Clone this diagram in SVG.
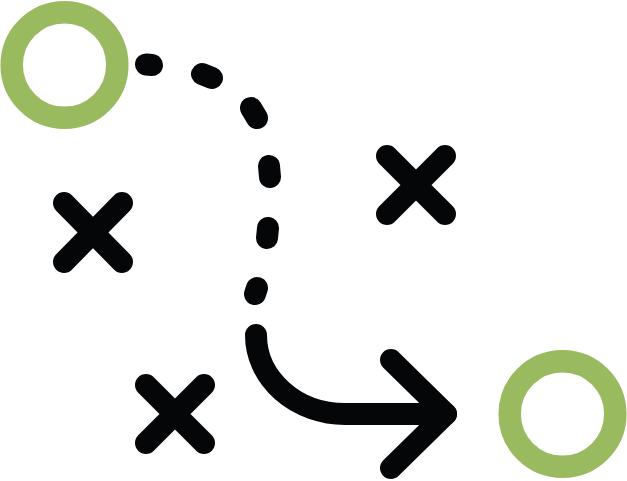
<svg xmlns="http://www.w3.org/2000/svg" width="627" height="481" viewBox="0 0 627 481">
<style>
.ring{fill:none;stroke:#9aba5f;stroke-width:22.5}
.ink{fill:none;stroke:#050608;stroke-width:22;stroke-linecap:round;stroke-linejoin:round}
</style>
<rect width="627" height="481" fill="#ffffff"/>
<g id="start"><circle class="ring" cx="64.5" cy="65" r="52.8"/></g>
<g id="goal"><circle class="ring" cx="562.5" cy="414" r="52.8"/></g>
<g id="x1"><path class="ink" d="M64,203L122,262M64,262L122,203"/></g>
<g id="x2"><path class="ink" d="M387,156L445,214M387,214L445,156"/></g>
<g id="x3"><path class="ink" d="M146,385L204,443M146,443L204,385"/></g>
<g id="connectors">
<path class="ink" d="M146,64.5L152,65M202,74L212,78M251,108L257,118M269,166L270,177M268,228L267,238M257,288L255,294"/>
<path class="ink" d="M256,335A89,79 0 0 0 345,414L446,414"/>
<path class="ink" d="M391,360L446,414L391,468"/>
</g>
</svg>
